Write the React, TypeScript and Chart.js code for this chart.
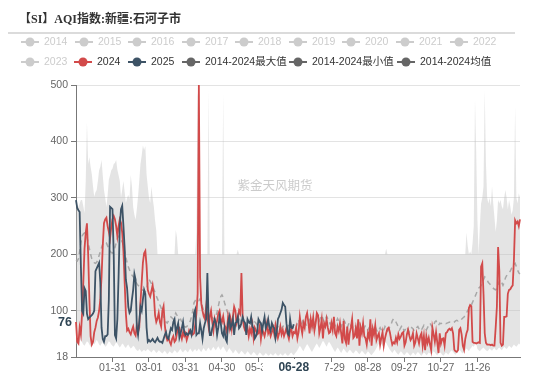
import React, { useEffect, useRef } from 'react';
import { Chart, registerables } from 'chart.js';

Chart.register(...registerables);

const TITLE = '【SI】AQI指数:新疆:石河子市';
const WATERMARK = '紫金天风期货';

const MONTH_DAYS = [31, 29, 31, 30, 31, 30, 31, 31, 30, 31, 30, 31];
const DATES: string[] = [];
MONTH_DAYS.forEach((n, m) => {
  for (let d = 1; d <= n; d++) {
    DATES.push(String(m + 1).padStart(2, '0') + '-' + String(d).padStart(2, '0'));
  }
});

const X_TICK_LABELS = ['01-31', '03-01', '03-31', '04-30', '05-30', '06-29', '07-29', '08-28', '09-27', '10-27', '11-26'];
const Y_TICKS = [18, 100, 200, 300, 400, 500];

const POINTER_DATE = '06-28';
const POINTER_VALUE = 76;

const LEGEND_ROW1 = ['2014', '2015', '2016', '2017', '2018', '2019', '2020', '2021', '2022'];
const LEGEND_ROW2 = ['2023', '2024', '2025', '2014-2024最大值', '2014-2024最小值', '2014-2024均值'];
const HIDDEN_SERIES = ['2014', '2015', '2016', '2017', '2018', '2019', '2020', '2021', '2022', '2023'];

const Y2024 = [
  80, 45, 42, 70, 58, 95, 150, 210, 238, 255,
  200, 120, 55, 40, 45, 62, 70, 82, 88, 100,
  120, 160, 215, 255, 262, 265, 250, 240, 228, 248,
  262, 268, 262, 250, 232, 250, 262, 256, 238, 205,
  150, 95, 65, 68, 62, 58, 66, 72, 60, 56,
  74, 62, 70, 115, 150, 185, 202, 206, 180, 137,
  130, 125, 135, 145, 128, 92, 80, 86, 96, 80,
  72, 100, 108, 75, 55, 48, 52, 45, 40, 50,
  55, 45, 48, 60, 72, 70, 58, 50, 62, 55,
  60, 48, 55, 65, 60, 62, 58, 60, 75, 95,
  130, 500, 160, 113, 100, 90, 85, 107, 90, 72,
  90, 100, 80, 65, 85, 75, 82, 95, 100, 85,
  80, 90, 75, 70, 62, 88, 70, 85, 68, 90,
  107, 100, 78, 85, 100, 95, 167, 90, 72, 65,
  62, 70, 55, 68, 60, 75, 52, 70, 65, 58,
  60, 72, 50, 68, 62, 55, 65, 78, 60, 66,
  55, 62, 70, 58, 75, 64, 52, 60, 72, 58,
  66, 55, 62, 70, 58, 50, 64, 68, 55, 62,
  60, 70, 51, 62, 89, 72, 60, 78, 70, 89,
  96, 80, 60, 85, 72, 88, 65, 78, 96, 92,
  60, 70, 85, 51, 78, 72, 85, 70, 60, 62,
  78, 66, 89, 60, 55, 72, 64, 78, 60, 42,
  82, 50, 43, 72, 40, 60, 70, 85, 52, 55,
  69, 51, 85, 38, 70, 60, 78, 55, 51, 40,
  60, 52, 85, 38, 68, 58, 74, 48, 55, 60,
  40, 52, 62, 38, 51, 60, 68, 70, 62, 50,
  40, 44, 42, 52, 44, 58, 50, 54, 60, 62,
  38, 44, 58, 66, 56, 48, 52, 60, 38, 44,
  60, 51, 42, 55, 60, 38, 55, 30, 55, 43,
  52, 40, 30, 70, 58, 45, 62, 44, 25, 60,
  42, 50, 51, 38, 60, 62, 66, 68, 66, 69,
  60, 31, 28, 27, 30, 66, 69, 58, 38, 31,
  50, 60, 66, 105, 110, 108, 45, 43, 43, 42,
  43, 44, 43, 178, 184, 130, 60, 43, 40, 40,
  40, 39, 40, 38, 38, 70, 107, 213, 170, 43,
  38, 40, 89, 89, 90, 130, 137, 138, 142, 145,
  190, 260, 255, 258, 250, 262,
];

const Y2025 = [
  296, 282, 278, 275, 180, 100, 95, 140, 135, 95,
  85, 88, 90, 92, 95, 100, 170, 175, 180, 185,
  150, 70, 50, 45, 55, 55, 58, 120, 284, 282,
  280, 200, 57, 51, 85, 160, 250, 280, 286, 250,
  210, 155, 140, 107, 96, 100, 120, 137, 165, 155,
  70, 57, 80, 107, 100, 120, 137, 130, 70, 45,
  48, 45, 47, 50, 46, 44, 48, 52, 47, 45,
  45, 43, 50, 57, 62, 52, 50, 60, 69, 66,
  80, 85, 62, 70, 78, 52, 60, 69, 80, 62,
  57, 60, 57, 60, 65, 57, 69, 96, 102, 57,
  60, 60, 78, 65, 50, 69, 78, 85, 167, 85,
  57, 57, 69, 78, 85, 78, 57, 70, 89, 78,
  60, 55, 69, 50, 45, 78, 89, 69, 75, 85,
  57, 78, 80, 89, 69, 72, 78, 89, 82, 78,
  57, 85, 80, 78, 89, 72, 69, 51, 55, 64,
  85, 80, 78, 64, 78, 89, 69, 75, 85, 70,
  64, 78, 72, 69, 51, 62, 85, 90, 96, 102,
  114, 110, 107, 78, 60, 57, 85, 70, 69, 76,
];

const MAX_2014_2024 = [
  292, 288, 284, 290, 296, 296, 285, 273, 330, 433,
  360, 372, 355, 342, 320, 302, 310, 314, 330, 349,
  355, 367, 340, 314, 300, 284, 305, 332, 340, 349,
  352, 360, 362, 367, 350, 340, 330, 300, 315, 330,
  310, 291, 300, 305, 298, 340, 320, 284, 270, 261,
  280, 302, 330, 360, 375, 393, 385, 392, 342, 320,
  300, 291, 320, 300, 284, 260, 242, 200, 200, 200,
  200, 200, 200, 200, 200, 200, 200, 200, 200, 200,
  200, 200, 243, 230, 200, 200, 200, 200, 200, 200,
  200, 200, 200, 200, 200, 200, 200, 200, 200, 240,
  480, 500, 200, 200, 200, 200, 200, 200, 200, 490,
  200, 200, 200, 200, 200, 200, 200, 200, 200, 200,
  200, 485, 200, 200, 200, 200, 200, 200, 200, 200,
  200, 200, 200, 208, 200, 200, 200, 200, 200, 200,
  200, 200, 200, 200, 200, 200, 200, 200, 200, 200,
  200, 200, 200, 200, 200, 200, 200, 200, 200, 200,
  200, 200, 200, 200, 200, 200, 200, 200, 200, 200,
  200, 200, 200, 200, 200, 200, 200, 200, 200, 200,
  200, 200, 200, 200, 200, 200, 200, 200, 200, 200,
  200, 200, 200, 200, 200, 200, 200, 200, 200, 200,
  200, 200, 200, 200, 200, 200, 200, 200, 200, 200,
  200, 200, 200, 200, 200, 200, 200, 200, 200, 200,
  200, 200, 200, 200, 200, 200, 200, 200, 200, 200,
  200, 200, 200, 200, 200, 200, 200, 200, 200, 200,
  200, 200, 200, 200, 200, 200, 200, 200, 200, 200,
  200, 200, 200, 200, 200, 210, 200, 200, 200, 200,
  200, 200, 200, 200, 200, 200, 200, 200, 200, 200,
  200, 200, 200, 200, 200, 200, 200, 200, 200, 200,
  200, 200, 200, 200, 200, 200, 200, 200, 200, 200,
  200, 200, 200, 200, 200, 200, 200, 200, 200, 200,
  200, 200, 200, 200, 200, 200, 200, 200, 200, 200,
  200, 200, 200, 200, 200, 200, 200, 200, 200, 200,
  200, 238, 215, 200, 205, 200, 220, 250, 473, 380,
  260, 200, 250, 290, 300, 320, 490, 362, 300, 290,
  300, 285, 320, 290, 265, 240, 260, 296, 290, 296,
  285, 280, 300, 314, 300, 280, 296, 285, 270, 278,
  300, 461, 300, 290, 308, 300,
];

const MIN_2014_2024 = [
  40, 42, 38, 45, 48, 44, 40, 38, 42, 46,
  44, 40, 36, 38, 42, 40, 44, 48, 45, 40,
  38, 42, 44, 40, 36, 38, 42, 46, 44, 40,
  38, 36, 40, 44, 42, 38, 35, 38, 42, 40,
  36, 34, 38, 40, 36, 33, 35, 38, 36, 32,
  30, 28, 32, 30, 27, 29, 31, 28, 30, 32,
  30, 28, 26, 29, 31, 28, 25, 27, 30, 28,
  26, 24, 27, 29, 26, 23, 25, 28, 26, 24,
  27, 30, 28, 25, 27, 30, 32, 28, 26, 29,
  31, 28, 26, 30, 33, 29, 27, 30, 32, 28,
  30, 33, 29, 27, 31, 34, 30, 28, 32, 35,
  31, 29, 33, 36, 32, 30, 34, 37, 33, 30,
  34, 37, 33, 29, 26, 30, 34, 31, 28, 24,
  27, 31, 28, 25, 23, 26, 29, 27, 24, 22,
  25, 28, 26, 23, 21, 24, 27, 25, 22, 20,
  23, 26, 24, 21, 20, 22, 25, 23, 20, 21,
  24, 22, 20, 23, 25, 22, 20, 21, 24, 22,
  20, 23, 25, 22, 20, 21, 24, 26, 23, 21,
  24, 27, 30, 34, 38, 35, 31, 28, 33, 37,
  41, 38, 34, 30, 27, 31, 35, 39, 42, 38,
  34, 38, 43, 47, 44, 40, 36, 41, 45, 42,
  38, 34, 30, 27, 31, 35, 32, 28, 25, 29,
  33, 30, 27, 25, 28, 31, 29, 26, 24, 27,
  30, 28, 25, 23, 26, 29, 27, 24, 22, 25,
  28, 26, 23, 21, 24, 27, 30, 34, 38, 42,
  36, 41, 38, 35, 46, 43, 39, 35, 31, 28,
  25, 28, 31, 27, 24, 22, 25, 28, 26, 23,
  21, 24, 27, 25, 22, 20, 23, 26, 24, 21,
  24, 27, 25, 22, 20, 23, 26, 24, 21, 23,
  26, 24, 22, 25, 28, 26, 23, 21, 24, 27,
  25, 22, 20, 23, 26, 24, 22, 25, 28, 30,
  27, 24, 22, 25, 28, 31, 29, 26, 24, 27,
  30, 33, 31, 28, 32, 35, 38, 36, 40, 42,
  32, 30, 28, 31, 33, 35, 32, 30, 28, 30,
  33, 31, 29, 32, 34, 31, 30, 33, 35, 32,
  30, 33, 36, 34, 32, 35, 38, 36, 34, 37,
  40, 38, 36, 39, 42, 40,
];

const MEAN_2014_2024 = [
  190, 188, 192, 205, 220, 232, 236, 238, 237, 230,
  220, 210, 200, 192, 188, 185, 184, 186, 190, 198,
  205, 212, 218, 220, 222, 220, 215, 210, 206, 203,
  202, 205, 212, 220, 228, 232, 231, 228, 222, 215,
  205, 195, 185, 178, 172, 166, 163, 160, 158, 152,
  148, 145, 143, 140, 138, 136, 135, 134, 138, 150,
  156, 152, 148, 143, 138, 132, 126, 121, 116, 110,
  105, 96, 88, 84, 80, 78, 82, 86, 89, 87,
  85, 90, 96, 92, 88, 84, 85, 80, 76, 72,
  71, 72, 74, 78, 82, 90, 100, 114, 118, 121,
  120, 118, 121, 115, 107, 100, 92, 89, 88, 89,
  90, 89, 88, 86, 85, 90, 98, 108, 118, 125,
  128, 124, 115, 108, 100, 95, 90, 86, 84, 83,
  82, 86, 80, 84, 88, 82, 78, 84, 80, 76,
  80, 84, 78, 74, 78, 82, 76, 80, 78, 74,
  78, 82, 76, 72, 76, 80, 74, 70, 74, 78,
  74, 70, 72, 76, 72, 68, 72, 74, 70, 68,
  72, 74, 70, 68, 72, 76, 72, 68, 70, 72,
  74, 70, 78, 84, 76, 72, 80, 86, 82, 76,
  72, 78, 84, 80, 74, 70, 76, 82, 88, 86,
  82, 88, 92, 86, 80, 84, 90, 86, 80, 76,
  80, 84, 78, 74, 80, 86, 82, 76, 72, 78,
  84, 80, 74, 70, 76, 80, 74, 70, 72, 76,
  72, 68, 74, 78, 72, 68, 66, 70, 74, 70,
  66, 70, 74, 68, 64, 68, 72, 66, 62, 66,
  70, 66, 62, 66, 72, 68, 64, 66, 72, 76,
  82, 86, 84, 80, 76, 70, 66, 70, 74, 68,
  64, 68, 72, 66, 62, 66, 70, 68, 64, 66,
  70, 72, 68, 64, 66, 70, 74, 70, 66, 70,
  74, 78, 74, 70, 74, 80, 82, 78, 74, 78,
  77, 78, 79, 78, 77, 78, 79, 80, 79, 78,
  79, 80, 82, 83, 82, 84, 83, 85, 87, 89,
  92, 96, 100, 104, 107, 110, 115, 120, 125, 130,
  136, 140, 142, 145, 150, 155, 160, 158, 155, 150,
  148, 145, 142, 140, 138, 137, 140, 146, 152, 155,
  150, 145, 150, 158, 162, 165, 167, 170, 175, 178,
  182, 184, 178, 172, 167, 165,
];

const RED = '#d24a4a';
const BLUE = '#3d5366';
const DARK_GRAY = '#666666';
const LIGHT_GRAY = '#cccccc';
const AXIS_FONT = '"Liberation Sans", "Noto Sans CJK SC", sans-serif';

function legendColor(name: string): string {
  if (HIDDEN_SERIES.includes(name)) return LIGHT_GRAY;
  if (name === '2024') return RED;
  if (name === '2025') return BLUE;
  return DARK_GRAY;
}

const ROW1_X = [21, 75, 128, 182, 235, 289, 342, 396, 450];
const ROW2_X = [21, 74, 128, 182, 289, 397];

const decorPlugin = {
  id: 'decor',
  beforeDatasetsDraw(chart: any) {
    const ctx = chart.ctx as CanvasRenderingContext2D;
    ctx.save();
    ctx.font = '12.5px "Noto Sans CJK SC", sans-serif';
    ctx.fillStyle = 'rgba(160,160,160,0.55)';
    ctx.textAlign = 'center';
    ctx.textBaseline = 'middle';
    ctx.fillText(WATERMARK, 275, 185);
    ctx.restore();
  },
  afterDraw(chart: any) {
    const ctx = chart.ctx as CanvasRenderingContext2D;
    ctx.save();
    // title
    ctx.font = 'bold 12px "Liberation Serif", "Noto Sans CJK SC", serif';
    ctx.fillStyle = '#333';
    ctx.textAlign = 'left';
    ctx.textBaseline = 'middle';
    ctx.fillText(TITLE, 19, 20);
    // separator
    ctx.strokeStyle = '#cfcfcf';
    ctx.lineWidth = 1.5;
    ctx.beginPath();
    ctx.moveTo(8, 33);
    ctx.lineTo(515, 33);
    ctx.stroke();
    // legend
    const drawItem = (name: string, x: number, y: number) => {
      const c = legendColor(name);
      ctx.strokeStyle = c;
      ctx.fillStyle = c;
      ctx.lineWidth = 2;
      ctx.beginPath();
      ctx.moveTo(x, y);
      ctx.lineTo(x + 18, y);
      ctx.stroke();
      ctx.beginPath();
      ctx.arc(x + 9, y, 4.5, 0, Math.PI * 2);
      ctx.fill();
      ctx.font = '10.5px ' + AXIS_FONT;
      ctx.fillStyle = HIDDEN_SERIES.includes(name) ? LIGHT_GRAY : '#333';
      ctx.textAlign = 'left';
      ctx.textBaseline = 'middle';
      ctx.fillText(name, x + 23, y + 0.5);
    };
    LEGEND_ROW1.forEach((n, i) => drawItem(n, ROW1_X[i], 42));
    LEGEND_ROW2.forEach((n, i) => drawItem(n, ROW2_X[i], 62));

    // axis pointer labels
    const xs = chart.scales.x;
    const ys = chart.scales.y;
    const px = xs.getPixelForValue(DATES.indexOf(POINTER_DATE));
    ctx.fillStyle = '#ffffff';
    ctx.fillRect(px - 31, 359, 62, 19);
    ctx.font = 'bold 12px ' + AXIS_FONT;
    ctx.fillStyle = '#2f4554';
    ctx.textAlign = 'center';
    ctx.textBaseline = 'middle';
    ctx.fillText(POINTER_DATE, px, 368);

    const py = ys.getPixelForValue(POINTER_VALUE) - 2;
    ctx.fillStyle = '#ffffff';
    ctx.fillRect(53, py - 8, 22, 16);
    ctx.font = 'bold 12.5px ' + AXIS_FONT;
    ctx.fillStyle = '#2f4554';
    ctx.textAlign = 'right';
    ctx.fillText(String(POINTER_VALUE), 72, py);
    ctx.restore();
  },
};

export default function App() {
  const ref = useRef<HTMLCanvasElement>(null);
  useEffect(() => {
    document.body.style.margin = '0';
    if (!ref.current) return;
    const chart = new Chart(ref.current, {
      type: 'line',
      data: {
        labels: DATES,
        datasets: [
          { label: '2025', data: Y2025, borderColor: BLUE, borderWidth: 1.8, pointRadius: 0, fill: false, tension: 0 },
          { label: '2024', data: Y2024, borderColor: RED, borderWidth: 1.8, pointRadius: 0, fill: false, tension: 0 },
          { label: '2014-2024均值', data: MEAN_2014_2024, borderColor: '#a8a8a8', borderWidth: 1.5, borderDash: [5, 4], pointRadius: 0, fill: false, tension: 0 },
          { label: '2014-2024最大值', data: MAX_2014_2024, borderColor: 'rgba(0,0,0,0)', borderWidth: 0, pointRadius: 0, backgroundColor: 'rgba(190,190,190,0.42)', fill: '+1', tension: 0 },
          { label: '2014-2024最小值', data: MIN_2014_2024, borderColor: 'rgba(0,0,0,0)', borderWidth: 0, pointRadius: 0, fill: false, tension: 0 },
        ],
      },
      options: {
        responsive: false,
        animation: false,
        events: [],
        layout: { padding: { left: 0, top: 85, right: 30, bottom: 0 } },
        plugins: {
          legend: { display: false },
          tooltip: { enabled: false },
          title: { display: false },
          filler: { propagate: false, drawTime: 'beforeDatasetsDraw' },
        } as any,
        scales: {
          x: {
            type: 'category',
            offset: false,
            grid: { display: true, drawOnChartArea: false, drawTicks: true, tickLength: 5, color: '#777' },
            border: { display: true, color: '#777', width: 1 },
            ticks: { autoSkip: false, maxRotation: 0, minRotation: 0, padding: 0, color: '#666', font: { size: 10.5, family: AXIS_FONT } },
            afterBuildTicks: (scale: any) => {
              scale.ticks = scale.ticks.filter((t: any) => X_TICK_LABELS.includes(DATES[t.value]));
            },
            afterFit: (scale: any) => {
              scale.height = 21;
            },
          },
          y: {
            type: 'linear',
            min: 18,
            max: 500,
            afterBuildTicks: (scale: any) => {
              scale.ticks = Y_TICKS.map((v) => ({ value: v }));
            },
            grid: { color: '#e3e3e3', tickColor: '#777', tickLength: 5, drawTicks: true },
            border: { display: true, color: '#777', width: 1 },
            ticks: { autoSkip: false, padding: 3, color: '#666', font: { size: 10.5, family: AXIS_FONT } },
            afterFit: (scale: any) => {
              scale.width = 76;
            },
          },
        } as any,
      },
      plugins: [decorPlugin],
    });
    return () => chart.destroy();
  }, []);
  return (
    <div style={{ width: 550, height: 378, position: 'relative' }}>
      <canvas ref={ref} width={550} height={378} style={{ display: 'block', width: 550, height: 378 }} />
    </div>
  );
}
